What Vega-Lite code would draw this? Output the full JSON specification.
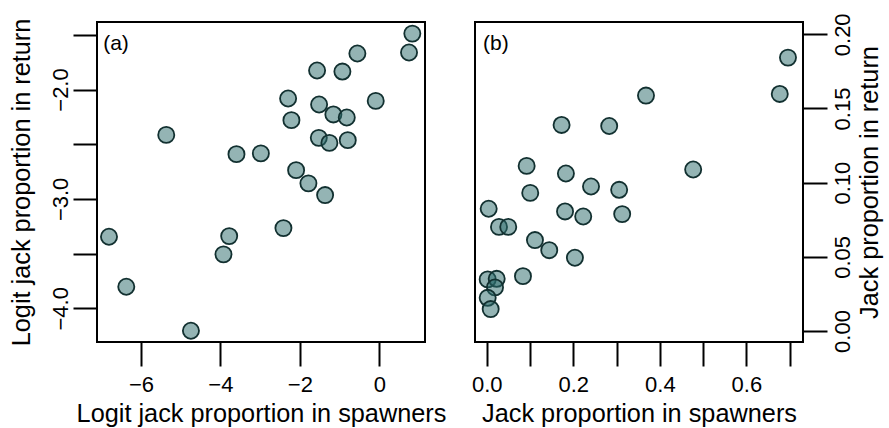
{
  "$schema": "https://vega.github.io/schema/vega-lite/v6.json",
  "background": "white",
  "padding": {"left": 8, "top": 11, "right": 4, "bottom": 0},
  "spacing": 50,
  "bounds": "flush",
  "config": {
    "view": {"stroke": "black", "strokeWidth": 2},
    "axis": {
      "domain": false, "grid": false,
      "tickColor": "black", "tickWidth": 2, "tickSize": 24,
      "labelColor": "black", "titleColor": "black",
      "labelFont": "Liberation Sans", "labelFontSize": 22,
      "titleFont": "Liberation Sans", "titleFontSize": 25.3, "titleFontWeight": "normal",
      "labelOverlap": false, "labelFlush": false
    }
  },
  "datasets": {
    "logit": [
      {"x": 0.830, "y": -1.489}, {"x": 0.747, "y": -1.662}, {"x": -0.553, "y": -1.671},
      {"x": -1.567, "y": -1.826}, {"x": -0.930, "y": -1.836}, {"x": -2.296, "y": -2.082},
      {"x": -1.516, "y": -2.137}, {"x": -0.091, "y": -2.104}, {"x": -2.213, "y": -2.280},
      {"x": -1.157, "y": -2.228}, {"x": -0.820, "y": -2.256}, {"x": -5.363, "y": -2.415},
      {"x": -1.524, "y": -2.442}, {"x": -1.257, "y": -2.488}, {"x": -0.795, "y": -2.463},
      {"x": -3.596, "y": -2.591}, {"x": -2.982, "y": -2.584}, {"x": -2.095, "y": -2.737},
      {"x": -1.785, "y": -2.858}, {"x": -1.365, "y": -2.965}, {"x": -2.414, "y": -3.267},
      {"x": -6.804, "y": -3.346}, {"x": -3.779, "y": -3.340}, {"x": -3.923, "y": -3.507},
      {"x": -6.369, "y": -3.803}, {"x": -4.742, "y": -4.205}
    ],
    "prop": [
      {"x": 0.696, "y": 0.1843}, {"x": 0.677, "y": 0.1598}, {"x": 0.368, "y": 0.1587},
      {"x": 0.173, "y": 0.1389}, {"x": 0.283, "y": 0.1382}, {"x": 0.0923, "y": 0.1113},
      {"x": 0.477, "y": 0.1089}, {"x": 0.183, "y": 0.1062}, {"x": 0.241, "y": 0.0974},
      {"x": 0.306, "y": 0.0952}, {"x": 0.1006, "y": 0.0931}, {"x": 0.0046, "y": 0.0824},
      {"x": 0.181, "y": 0.0806}, {"x": 0.223, "y": 0.0772}, {"x": 0.313, "y": 0.0788},
      {"x": 0.0284, "y": 0.0702}, {"x": 0.0498, "y": 0.0702}, {"x": 0.1115, "y": 0.0613},
      {"x": 0.1445, "y": 0.0545}, {"x": 0.2038, "y": 0.0494}, {"x": 0.0838, "y": 0.0370},
      {"x": 0.0023, "y": 0.0348}, {"x": 0.0231, "y": 0.0352}, {"x": 0.0192, "y": 0.0294},
      {"x": 0.0023, "y": 0.0224}, {"x": 0.0092, "y": 0.0148}
    ],
    "tagA": [{"x": -6.95, "y": -1.586, "t": "(a)"}],
    "tagB": [{"x": -0.0085, "y": 0.1933, "t": "(b)"}]
  },
  "hconcat": [
    {
      "width": 328, "height": 320,
      "layer": [
        {
          "data": {"name": "logit"},
          "mark": {"type": "point", "shape": "circle", "filled": true, "size": 260, "fill": "#2a6a6a", "fillOpacity": 0.5, "stroke": "#123030", "strokeWidth": 1.8, "strokeOpacity": 1},
          "encoding": {
            "x": {"field": "x", "type": "quantitative",
                  "scale": {"domain": [-7.106, 1.149], "nice": false, "zero": false},
                  "axis": {"title": "Logit jack proportion in spawners", "values": [-6, -4, -2, 0], "format": "d", "labelPadding": 8, "titlePadding": 6}},
            "y": {"field": "y", "type": "quantitative",
                  "scale": {"domain": [-4.308, -1.383], "nice": false, "zero": false},
                  "axis": {"title": "Logit jack proportion in return", "values": [-4, -3.5, -3, -2.5, -2, -1.5],
                           "labelExpr": "datum.value == -2 || datum.value == -3 || datum.value == -4 ? format(datum.value, '.1f') : ''",
                           "labelAngle": -90, "labelAlign": "center", "labelBaseline": "alphabetic", "labelPadding": 6, "titlePadding": 15}}
          }
        },
        {
          "data": {"name": "tagA"},
          "mark": {"type": "text", "align": "left", "baseline": "middle", "fontSize": 21, "font": "Liberation Sans", "color": "black"},
          "encoding": {
            "x": {"field": "x", "type": "quantitative"},
            "y": {"field": "y", "type": "quantitative"},
            "text": {"field": "t"}
          }
        }
      ]
    },
    {
      "width": 328, "height": 320,
      "layer": [
        {
          "data": {"name": "prop"},
          "mark": {"type": "point", "shape": "circle", "filled": true, "size": 260, "fill": "#2a6a6a", "fillOpacity": 0.5, "stroke": "#123030", "strokeWidth": 1.8, "strokeOpacity": 1},
          "encoding": {
            "x": {"field": "x", "type": "quantitative",
                  "scale": {"domain": [-0.027, 0.7307], "nice": false, "zero": false},
                  "axis": {"title": "Jack proportion in spawners", "values": [0, 0.1, 0.2, 0.3, 0.4, 0.5, 0.6, 0.7],
                           "labelExpr": "datum.value == 0 || datum.value == 0.2 || datum.value == 0.4 || datum.value == 0.6 ? format(datum.value, '.1f') : ''",
                           "labelPadding": 8, "titlePadding": 6}},
            "y": {"field": "y", "type": "quantitative",
                  "scale": {"domain": [-0.0074, 0.2083], "nice": false, "zero": false},
                  "axis": {"orient": "right", "title": "Jack proportion in return", "values": [0, 0.05, 0.1, 0.15, 0.2], "format": ".2f",
                           "labelAngle": -90, "labelAlign": "center", "labelBaseline": "top", "labelPadding": 5, "titleAngle": -90, "titleBaseline": "top", "titlePadding": 4}}
          }
        },
        {
          "data": {"name": "tagB"},
          "mark": {"type": "text", "align": "left", "baseline": "middle", "fontSize": 21, "font": "Liberation Sans", "color": "black"},
          "encoding": {
            "x": {"field": "x", "type": "quantitative"},
            "y": {"field": "y", "type": "quantitative"},
            "text": {"field": "t"}
          }
        }
      ]
    }
  ]
}
